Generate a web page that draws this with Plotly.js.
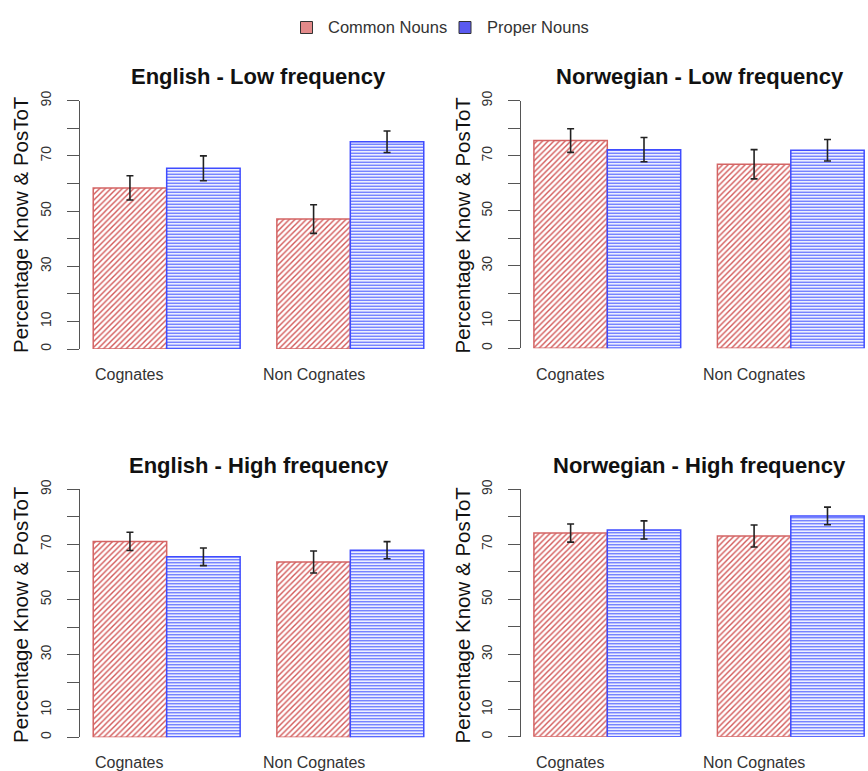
<!DOCTYPE html>
<html>
<head>
<meta charset="utf-8">
<script src="https://cdn.plot.ly/plotly-3.0.1.min.js"></script>
<style>html,body{margin:0;padding:0;background:#fff;}#chart{width:868px;height:771px;}</style>
</head>
<body>
<div id="chart"></div>
<script>
// ---- data ----
const categories = ["Cognates", "Non Cognates"];
const seriesNames = ["Common Nouns", "Proper Nouns"];
const panelTitles = ["English - Low frequency", "Norwegian - Low frequency", "English - High frequency", "Norwegian - High frequency"];
const yTitle = "Percentage Know & PosToT";

const engLowCommon = [58.4, 47.1];
const engLowProper = [65.5, 75.1];
const engLowCommonErr = [4.4, 5.2];
const engLowProperErr = [4.5, 3.9];

const norLowCommon = [75.5, 66.9];
const norLowProper = [72.2, 72.0];
const norLowCommonErr = [4.3, 5.3];
const norLowProperErr = [4.4, 3.9];

const engHighCommon = [71.1, 63.6];
const engHighProper = [65.5, 67.9];
const engHighCommonErr = [3.3, 4.0];
const engHighProperErr = [3.2, 3.1];

const norHighCommon = [74.1, 73.0];
const norHighProper = [75.2, 80.3];
const norHighCommonErr = [3.3, 4.0];
const norHighProperErr = [3.3, 3.2];

const yTickVals = [0, 10, 20, 30, 40, 50, 60, 70, 80, 90];
const yTickText = ["0", "10", "", "30", "", "50", "", "70", "", "90"];

// ---- styling ----
const W = 868, H = 771;
const FONT = "Liberation Sans, Arial, Helvetica, sans-serif";
const px = v => v / W;
const py = v => 1 - v / H;

const redLine = "#d46464", redHatch = "#d25858";
const blueLine = "#3f4cff", blueHatch = "#4456ff";
const errStyle = {type: "data", visible: true, color: "#222", thickness: 1.6, width: 3.5};

const panels = [
  {c: engLowCommon, p: engLowProper, ce: engLowCommonErr, pe: engLowProperErr},
  {c: norLowCommon, p: norLowProper, ce: norLowCommonErr, pe: norLowProperErr},
  {c: engHighCommon, p: engHighProper, ce: engHighCommonErr, pe: engHighProperErr},
  {c: norHighCommon, p: norHighProper, ce: norHighCommonErr, pe: norHighProperErr}
];

// pixel geometry of each plotting region: [left, right, top(90), bottom(0)]
const geo = [
  [80, 437, 100.7, 349],
  [520.7, 868, 100.7, 348.3],
  [80, 437, 489.3, 737.3],
  [520.7, 868, 489.3, 736.7]
];
const xRanges = [[-0.472, 1.472], [-0.472, 1.4208], [-0.472, 1.472], [-0.472, 1.4208]];
const titlePos = [[258.5, 77], [699.5, 77], [258.5, 466], [699.5, 466]];
const yTitlePos = [[20, 225], [461.5, 225], [20, 615], [461.5, 615]];
const catLabelY = [374, 374, 762, 762];

const traces = [];
const layout = {
  width: W, height: H,
  margin: {l: 0, r: 0, t: 0, b: 0},
  paper_bgcolor: "#fff", plot_bgcolor: "#fff",
  showlegend: false,
  barmode: "group", bargap: 0.2, bargroupgap: 0,
  font: {family: FONT, color: "#333"},
  annotations: [], shapes: []
};

panels.forEach((d, i) => {
  const ax = i === 0 ? "" : String(i + 1);
  const xa = "x" + ax, ya = "y" + ax;
  traces.push({
    type: "bar", name: seriesNames[0], x: categories, y: d.c,
    xaxis: xa, yaxis: ya,
    marker: {color: "#fff", line: {color: redLine, width: 1.5},
             pattern: {shape: "/", fgcolor: redHatch, bgcolor: "#fff", size: 4, solidity: 0.35}},
    error_y: Object.assign({array: d.ce}, errStyle),
    hoverinfo: "skip"
  });
  traces.push({
    type: "bar", name: seriesNames[1], x: categories, y: d.p,
    xaxis: xa, yaxis: ya,
    marker: {color: "#fff", line: {color: blueLine, width: 1.5},
             pattern: {shape: "-", fgcolor: blueHatch, bgcolor: "#fff", size: 3, solidity: 0.4}},
    error_y: Object.assign({array: d.pe}, errStyle),
    hoverinfo: "skip"
  });
  const g = geo[i];
  layout["xaxis" + ax] = {
    domain: [px(g[0]), px(g[1])], anchor: ya, range: xRanges[i],
    type: "category", showline: false, showgrid: false, zeroline: false, ticks: "",
    showticklabels: false, fixedrange: true
  };
  layout["yaxis" + ax] = {
    domain: [py(g[3]), py(g[2])], anchor: xa, range: [0, 90],
    showline: true, linecolor: "#555", linewidth: 1, showgrid: false, zeroline: false,
    ticks: "outside", ticklen: 12, tickcolor: "#555", tickwidth: 1,
    tickvals: yTickVals, ticktext: yTickText, tickangle: -90,
    tickfont: {size: 14, color: "#333", family: FONT}, ticklabelstandoff: 10, fixedrange: true
  };
  // category labels, centred under the first bar of each group (as in the original)
  categories.forEach(cat => {
    layout.annotations.push({
      text: cat, xref: xa, yref: "paper", x: cat, xshift: -36.7,
      y: py(catLabelY[i]), xanchor: "center", yanchor: "middle", showarrow: false,
      font: {size: 16, color: "#333", family: FONT}
    });
  });
  layout.annotations.push({
    text: "<b>" + panelTitles[i] + "</b>", xref: "paper", yref: "paper",
    x: px(titlePos[i][0]), y: py(titlePos[i][1]), xanchor: "center", yanchor: "middle",
    showarrow: false, font: {size: 22, color: "#111", family: FONT}
  });
  layout.annotations.push({
    text: yTitle, xref: "paper", yref: "paper", textangle: -90,
    x: px(yTitlePos[i][0]), y: py(yTitlePos[i][1]), xanchor: "center", yanchor: "middle",
    showarrow: false, font: {size: 20.5, color: "#111", family: FONT}
  });
});

// legend (drawn manually)
const legendItems = [
  {name: seriesNames[0], fill: "#e38a8a", box: [300.5, 312.5], tx: 326},
  {name: seriesNames[1], fill: "#5a5af0", box: [459, 471], tx: 485}
];
legendItems.forEach(it => {
  layout.shapes.push({
    type: "rect", xref: "paper", yref: "paper",
    x0: px(it.box[0]), x1: px(it.box[1]), y0: py(33.5), y1: py(21.5),
    fillcolor: it.fill, line: {color: "#333", width: 1}
  });
  layout.annotations.push({
    text: it.name, xref: "paper", yref: "paper", x: px(it.tx), y: py(27.5),
    xanchor: "left", yanchor: "middle", showarrow: false,
    font: {size: 16.5, color: "#333", family: FONT}
  });
});

Plotly.newPlot("chart", traces, layout, {displayModeBar: false, staticPlot: true});
</script>
</body>
</html>
